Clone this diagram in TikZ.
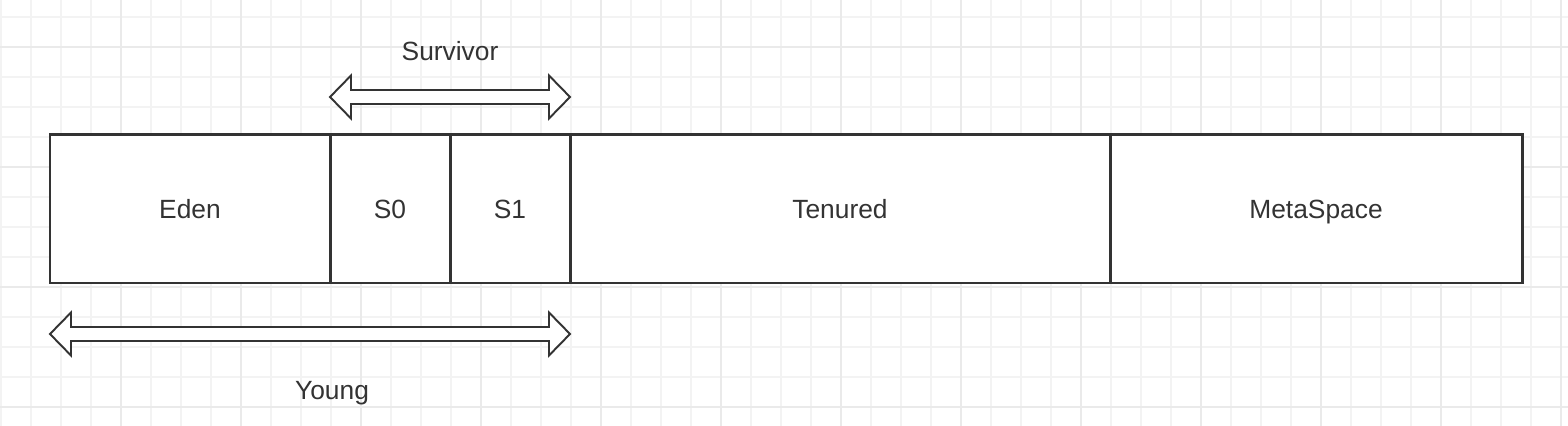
\documentclass[tikz,border=0pt]{standalone}
\usepackage{fontspec}
\setmainfont{Liberation Sans}
\usetikzlibrary{positioning, calc}
\definecolor{ink}{HTML}{333333}
\definecolor{gridminor}{HTML}{F3F3F3}
\definecolor{gridmajor}{HTML}{EAEAEA}
\tikzset{
  region/.style={draw=ink, line width=1.7pt, fill=white, minimum height=2.96cm, inner sep=0pt, outer sep=0pt, text=ink, text height=10.7pt, text depth=0pt, font=\fontsize{15}{18}\selectfont},
  span/.style={draw=ink, line width=1.1pt, fill=white},
  spanlabel/.style={text=ink, font=\fontsize{15}{18}\selectfont},
}

\begin{document}
\begin{tikzpicture}
    % Canvas and background grid
    \useasboundingbox (0,0) rectangle (31.36,8.52);
    \foreach \i in {0,...,52} \draw[gridminor, line width=1.1pt] (0.014+0.6*\i,0) -- ++(0,8.52);
    \foreach \i in {0,...,13} \draw[gridminor, line width=1.1pt] (0,8.186-0.6*\i) -- ++(31.36,0);
    \foreach \i in {0,...,12} \draw[gridmajor, line width=1.1pt] (2.414+2.4*\i,0) -- ++(0,8.52);
    \foreach \i in {0,...,3} \draw[gridmajor, line width=1.1pt] (0,7.586-2.4*\i) -- ++(31.36,0);
    % Heap regions
    \node[region, minimum width=5.6cm, anchor=south west] (eden) at (1.0,2.86) {Eden};
    \node[region, minimum width=2.4cm, right=0pt of eden] (s0) {S0};
    \node[region, minimum width=2.4cm, right=0pt of s0] (s1) {S1};
    \node[region, minimum width=10.8cm, right=0pt of s1] (tenured) {Tenured};
    \node[region, minimum width=8.24cm, right=0pt of tenured] (metaspace) {MetaSpace};
    % Span arrows
    \coordinate (survL) at ($(s0.north west)+(0,0.76)$);
    \coordinate (survR) at ($(s1.north east)+(0,0.76)$);
    \coordinate (youngL) at ($(eden.south west)+(0,-1.02)$);
    \coordinate (youngR) at ($(s1.south east)+(0,-1.02)$);
    \foreach \a/\b in {survL/survR, youngL/youngR}
      \draw[span] (\a) -- ++(0.42,0.43) -- ++(0,-0.29) -- ($(\b)+(-0.42,0.14)$) -- ++(0,0.29) -- (\b) -- ++(-0.42,-0.43) -- ++(0,0.29) -- ($(\a)+(0.42,-0.14)$) -- ++(0,-0.29) -- cycle;
    \node[spanlabel] (survivor) at ($(s1.north west)+(0,1.68)$) {Survivor};
    \node[spanlabel] (young) at ($(s0.south west)+(0.04,-2.2)$) {Young};
\end{tikzpicture}
\end{document}
